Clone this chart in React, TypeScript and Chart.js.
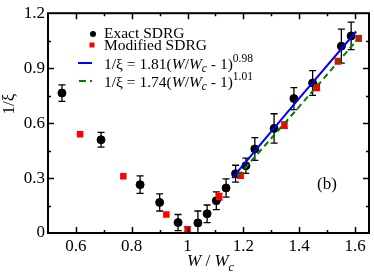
import { useEffect, useRef } from "react";
import { Chart, registerables } from "chart.js";
Chart.register(...registerables);

// Exact SDRG (black circles) with error bars
const exactW = [0.55, 0.69, 0.83, 0.9, 0.966, 1.037, 1.07, 1.103, 1.138, 1.172, 1.209, 1.241, 1.31, 1.381, 1.448, 1.551, 1.586];
const exactInv = [0.764, 0.509, 0.264, 0.167, 0.057, 0.055, 0.105, 0.176, 0.246, 0.324, 0.367, 0.459, 0.571, 0.734, 0.819, 1.02, 1.076];
const exactErr = [0.045, 0.04, 0.048, 0.047, 0.044, 0.065, 0.048, 0.048, 0.05, 0.046, 0.042, 0.062, 0.08, 0.06, 0.068, 0.093, 0.075];
// Modified SDRG (red squares)
const modW = [0.615, 0.77, 0.924, 1.0, 1.113, 1.19, 1.347, 1.463, 1.539, 1.613];
const modInv = [0.539, 0.31, 0.101, 0.02, 0.198, 0.314, 0.589, 0.796, 0.938, 1.062];
const modErr = [0, 0, 0, 0.015, 0.018, 0.015, 0.018, 0.018, 0.015, 0.015];
// Fit lines
const fit1W = [1.16, 1.38, 1.604];
const fit1Inv = [0.3, 0.7, 1.1];
const fit2W = [1.18, 1.4, 1.625];
const fit2Inv = [0.31, 0.69, 1.085];
// Ticks
const xTickValues = [0.6, 0.8, 1, 1.2, 1.4, 1.6];
const xTickLabels = ["0.6", "0.8", "1", "1.2", "1.4", "1.6"];
const xMinorTicks = [0.7, 0.9, 1.1, 1.3, 1.5];
const yTickValues = [0, 0.3, 0.6, 0.9, 1.2];
const yTickLabels = ["0", "0.3", "0.6", "0.9", "1.2"];
const yMinorTicks = [0.15, 0.45, 0.75, 1.05];

const FONT = "'Liberation Serif', 'DejaVu Serif', serif";
const BLUE = "#0000ff";
const GREEN = "#008000";
const RED = "#ff0000";
const LS = 15.5;

type Seg = { t: string; italic?: boolean; size: number; dy?: number };

function drawRich(ctx: CanvasRenderingContext2D, x: number, y: number, segs: Seg[]) {
  let cx = x;
  for (const s of segs) {
    ctx.font = `${s.italic ? "italic " : ""}${s.size}px ${FONT}`;
    ctx.fillText(s.t, cx, y + (s.dy || 0));
    cx += ctx.measureText(s.t).width;
  }
  return cx - x;
}

function richWidth(ctx: CanvasRenderingContext2D, segs: Seg[]) {
  let w = 0;
  for (const s of segs) {
    ctx.font = `${s.italic ? "italic " : ""}${s.size}px ${FONT}`;
    w += ctx.measureText(s.t).width;
  }
  return w;
}

const errorBarPlugin = {
  id: "errorBars",
  beforeDatasetsDraw(chart: any) {
    const ctx = chart.ctx as CanvasRenderingContext2D;
    const xs = chart.scales.x;
    const ys = chart.scales.y;
    const draw = (W: number[], V: number[], E: number[], color: string) => {
      ctx.save();
      ctx.strokeStyle = color;
      ctx.lineWidth = 1.3;
      for (let i = 0; i < W.length; i++) {
        if (!E[i]) continue;
        const px = xs.getPixelForValue(W[i]);
        const top = ys.getPixelForValue(Math.min(V[i] + E[i], 1.2));
        const bot = ys.getPixelForValue(Math.max(V[i] - E[i], 0));
        ctx.beginPath();
        ctx.moveTo(px, top);
        ctx.lineTo(px, bot);
        ctx.moveTo(px - 3.5, top);
        ctx.lineTo(px + 3.5, top);
        ctx.moveTo(px - 3.5, bot);
        ctx.lineTo(px + 3.5, bot);
        ctx.stroke();
      }
      ctx.restore();
    };
    draw(exactW, exactInv, exactErr, "#000");
    draw(modW, modInv, modErr, RED);
  },
};

const framePlugin = {
  id: "frameAndText",
  afterDraw(chart: any) {
    const ctx = chart.ctx as CanvasRenderingContext2D;
    const a = chart.chartArea;
    const xs = chart.scales.x;
    const ys = chart.scales.y;
    ctx.save();
    ctx.strokeStyle = "#000";
    ctx.lineWidth = 2;
    ctx.strokeRect(a.left, a.top, a.right - a.left, a.bottom - a.top);
    ctx.lineWidth = 1.5;
    ctx.beginPath();
    const xt = (vals: number[], len: number) => {
      for (const v of vals) {
        const p = Math.round(xs.getPixelForValue(v)) + 0.5;
        ctx.moveTo(p, a.bottom);
        ctx.lineTo(p, a.bottom - len);
        ctx.moveTo(p, a.top);
        ctx.lineTo(p, a.top + len);
      }
    };
    const yt = (vals: number[], len: number) => {
      for (const v of vals) {
        const p = Math.round(ys.getPixelForValue(v)) + 0.5;
        ctx.moveTo(a.left, p);
        ctx.lineTo(a.left + len, p);
        ctx.moveTo(a.right, p);
        ctx.lineTo(a.right - len, p);
      }
    };
    xt(xTickValues, 6);
    xt(xMinorTicks, 3);
    yt(yTickValues.slice(1, -1), 6);
    yt(yMinorTicks, 3);
    ctx.stroke();

    // Legend
    ctx.fillStyle = "#000";
    ctx.textBaseline = "alphabetic";
    ctx.beginPath();
    ctx.arc(93, 34, 3, 0, Math.PI * 2);
    ctx.fill();
    ctx.fillStyle = RED;
    ctx.fillRect(89.5, 42.5, 5, 5);
    ctx.strokeStyle = BLUE;
    ctx.lineWidth = 2;
    ctx.beginPath();
    ctx.moveTo(78, 63);
    ctx.lineTo(92, 63);
    ctx.stroke();
    ctx.strokeStyle = GREEN;
    ctx.beginPath();
    ctx.moveTo(79, 81);
    ctx.lineTo(86, 81);
    ctx.moveTo(90, 81);
    ctx.lineTo(92, 81);
    ctx.stroke();

    ctx.fillStyle = "#000";
    drawRich(ctx, 104, 37.5, [{ t: "Exact SDRG", size: LS }]);
    drawRich(ctx, 104, 50, [{ t: "Modified SDRG", size: LS }]);
    drawRich(ctx, 104, 68.5, [
      { t: "1/\u03BE = 1.81(", size: LS },
      { t: "W", italic: true, size: LS },
      { t: "/", size: LS },
      { t: "W", italic: true, size: LS },
      { t: "c", italic: true, size: 11.5, dy: 3 },
      { t: " - 1)", size: LS },
      { t: "0.98", size: 11.5, dy: -7 },
    ]);
    drawRich(ctx, 104, 87, [
      { t: "1/\u03BE = 1.74(", size: LS },
      { t: "W", italic: true, size: LS },
      { t: "/", size: LS },
      { t: "W", italic: true, size: LS },
      { t: "c", italic: true, size: 11.5, dy: 3 },
      { t: " - 1)", size: LS },
      { t: "1.01", size: 11.5, dy: -7 },
    ]);

    // Panel label
    ctx.font = `17px ${FONT}`;
    ctx.textAlign = "center";
    ctx.textBaseline = "middle";
    ctx.fillText("(b)", 327, 185);

    // X axis title
    ctx.textAlign = "left";
    ctx.textBaseline = "alphabetic";
    const xsegs: Seg[] = [
      { t: "W", italic: true, size: 17 },
      { t: " / ", size: 17 },
      { t: "W", italic: true, size: 17 },
      { t: "c", italic: true, size: 12, dy: 5 },
    ];
    const xw = richWidth(ctx, xsegs);
    drawRich(ctx, (a.left + a.right) / 2 - xw / 2 + 2, 266, xsegs);

    // Y axis title
    ctx.save();
    ctx.translate(14, 104);
    ctx.rotate(-Math.PI / 2);
    ctx.font = `17px ${FONT}`;
    ctx.textAlign = "center";
    ctx.fillText("1/\u03BE", 0, 0);
    ctx.restore();
    ctx.restore();
  },
};

export default function App() {
  const ref = useRef<HTMLCanvasElement | null>(null);
  useEffect(() => {
    if (!ref.current) return;
    const chart = new Chart(ref.current, {
      type: "scatter",
      data: {
        datasets: [
          {
            label: "Exact SDRG",
            data: exactW.map((w, i) => ({ x: w, y: exactInv[i] })),
            backgroundColor: "#000",
            borderColor: "#000",
            pointRadius: 4,
            pointStyle: "circle",
            showLine: false,
            order: 3,
          },
          {
            label: "Modified SDRG",
            data: modW.map((w, i) => ({ x: w, y: modInv[i] })),
            backgroundColor: RED,
            borderColor: RED,
            borderWidth: 0,
            pointRadius: 4.6,
            pointStyle: "rect",
            showLine: false,
            order: 2,
          },
          {
            label: "fit1",
            data: fit1W.map((w, i) => ({ x: w, y: fit1Inv[i] })),
            borderColor: BLUE,
            borderWidth: 2,
            pointRadius: 0,
            showLine: true,
            tension: 0,
            order: 1,
          },
          {
            label: "fit2",
            data: fit2W.map((w, i) => ({ x: w, y: fit2Inv[i] })),
            borderColor: GREEN,
            borderWidth: 2,
            borderDash: [6, 4],
            pointRadius: 0,
            showLine: true,
            tension: 0,
            order: 0,
          },
        ],
      },
      options: {
        animation: false,
        responsive: false,
        devicePixelRatio: 1,
        layout: { padding: { top: 8, right: 2, left: 0, bottom: 0 } },
        plugins: { legend: { display: false }, tooltip: { enabled: false }, title: { display: false } },
        scales: {
          x: {
            type: "linear",
            min: 0.5,
            max: 1.65,
            grid: { display: false, drawTicks: false },
            border: { display: false },
            afterBuildTicks: (s: any) => {
              s.ticks = xTickValues.map((v) => ({ value: v }));
            },
            afterFit: (s: any) => {
              s.height = 41;
            },
            ticks: {
              padding: 3,
              color: "#000",
              font: { family: FONT, size: 17 },
              maxRotation: 0,
              autoSkip: false,
              callback: (v: any) => {
                const i = xTickValues.findIndex((t) => Math.abs(t - Number(v)) < 1e-6);
                return i >= 0 ? xTickLabels[i] : "";
              },
            },
          },
          y: {
            type: "linear",
            min: 0,
            max: 1.2,
            grid: { display: false, drawTicks: false },
            border: { display: false },
            afterBuildTicks: (s: any) => {
              s.ticks = yTickValues.map((v) => ({ value: v }));
            },
            afterFit: (s: any) => {
              s.width = 48;
            },
            ticks: {
              padding: 3,
              color: "#000",
              font: { family: FONT, size: 17 },
              autoSkip: false,
              callback: (v: any) => {
                const i = yTickValues.findIndex((t) => Math.abs(t - Number(v)) < 1e-6);
                return i >= 0 ? yTickLabels[i] : "";
              },
            },
          },
        },
      },
      plugins: [errorBarPlugin, framePlugin],
    } as any);
    return () => chart.destroy();
  }, []);
  return (
    <div style={{ position: "absolute", left: 0, top: 0, width: 374, height: 274, background: "#fff" }}>
      <canvas ref={ref} width={374} height={274} style={{ width: 374, height: 274, display: "block" }} />
    </div>
  );
}
